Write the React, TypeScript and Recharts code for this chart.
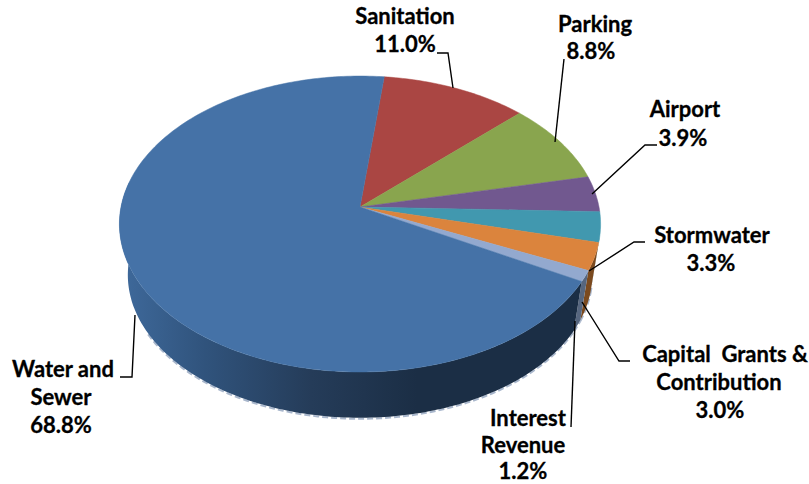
import { Pie, PieChart } from "recharts";

const WIDTH = 809;
const HEIGHT = 484;

const categories = ["Sanitation", "Parking", "Airport", "Stormwater", "Capital Grants & Contribution", "Interest Revenue", "Water and Sewer"];
const shares = [11.0, 8.8, 3.9, 3.3, 3.0, 1.2, 68.8];
const topColors = ["#aa4643", "#89a54e", "#71588f", "#4198af", "#db843d", "#93a9cf", "#4572a7"];
const wallColors = ["#6b2b29", "#55672f", "#463759", "#285f6d", "#7b4a1f", "#56667f", "url(#waterWall)"];

// tilted-disc projection, fitted to the picture
const CX = 360;
const CY = 207;
const RADIUS = 239;
const TILT_Y = 146;
const PERSPECTIVE = 0.115;
const TOP_MID_Y = 224;
const BOTTOM_MID_Y = 275;
const BOTTOM_CX = 360;
const BOTTOM_SCALE = 0.965;

function project(angle: number) {
  const rad = (angle * Math.PI) / 180;
  const u = Math.cos(rad);
  const v = -Math.sin(rad);
  const d = 1 - PERSPECTIVE * v;
  return { x: CX + (RADIUS * u) / d, y: CY + (TILT_Y * v) / d };
}

function projectBottom(angle: number) {
  const p = project(angle);
  return {
    x: BOTTOM_CX + (p.x - CX) * BOTTOM_SCALE,
    y: BOTTOM_MID_Y + (p.y - TOP_MID_Y) * BOTTOM_SCALE,
  };
}

function rim(from: number, to: number, fn: (a: number) => { x: number; y: number }) {
  const steps = Math.max(2, Math.ceil(Math.abs(to - from)));
  const pts: string[] = [];
  for (let i = 0; i <= steps; i++) {
    const p = fn(from + ((to - from) * i) / steps);
    pts.push(`${p.x.toFixed(2)} ${p.y.toFixed(2)}`);
  }
  return pts;
}

function TopSlice(props: any) {
  const arc = rim(props.startAngle, props.endAngle, project);
  return <path d={`M${CX} ${CY}L${arc.join("L")}Z`} fill={props.fill} stroke={props.fill} strokeWidth={0.5} />;
}

// only the front of the disc shows its side; these angles are the two ends of that part
const WALL_START = -10;
const WALL_END = -190;
const RIM_END = -150;

function WallSlice(props: any) {
  const norm = (a: number) => (a > 90 ? a - 360 : a);
  const a0 = Math.min(norm(props.startAngle), WALL_START);
  const a1 = Math.max(props.endAngle, WALL_END);
  if (a0 <= a1) return null;
  const top = rim(a0, a1, project);
  const bottom = rim(a1, a0, projectBottom);
  const edge = rim(Math.max(a1, RIM_END), a0, (a) => {
    const p = projectBottom(a);
    return { x: p.x, y: p.y + 1 };
  });
  return (
    <g>
      <path d={`M${edge.join("L")}`} fill="none" stroke="#a9b7cc" strokeWidth={2} strokeDasharray="6 3" />
      <path d={`M${top.join("L")}L${bottom.join("L")}Z`} fill={props.fill} />
    </g>
  );
}

const wallData = categories.map((name, i) => ({ name, value: shares[i], fill: wallColors[i] }));
const topData = categories.map((name, i) => ({ name, value: shares[i], fill: topColors[i] }));

// callouts
const labelLines = [
  "Sanitation",
  "11.0%",
  "Parking",
  "8.8%",
  "Airport",
  "3.9%",
  "Stormwater",
  "3.3%",
  "Capital  Grants &",
  "Contribution",
  "3.0%",
  "Interest",
  "Revenue",
  "1.2%",
  "Water and",
  "Sewer",
  "68.8%",
];
const labelX = [405, 405, 595, 591, 685, 683, 712, 711, 725, 719, 720, 528, 523, 523, 63, 61, 61];
const labelY = [24, 52, 32, 59, 117, 146, 243, 271, 362, 390, 418, 426, 453, 479, 377, 405, 433];

const leaderLines = [
  "437,53 448,53 453,88",
  "564,59 555,142",
  "657,145 645,145 592,194",
  "645,242 634,242 589,271",
  "630,361 619,361 582,302",
  "571,427 575,321",
  "120,377 132,377 135,315",
];

export default function App() {
  return (
    <div style={{ position: "absolute", left: 0, top: 0, width: WIDTH, height: HEIGHT, background: "#fff" }}>
      <PieChart width={WIDTH} height={HEIGHT} margin={{ top: 0, right: 0, bottom: 0, left: 0 }}>
        <defs>
          <linearGradient id="waterWall" gradientUnits="userSpaceOnUse" x1={119} y1={0} x2={600} y2={0}>
            <stop offset="0" stopColor="#3f6a9c" />
            <stop offset="0.18" stopColor="#30537c" />
            <stop offset="0.4" stopColor="#253c59" />
            <stop offset="0.62" stopColor="#1b2e45" />
            <stop offset="1" stopColor="#1b2e45" />
          </linearGradient>
        </defs>
        <Pie
          data={wallData}
          dataKey="value"
          cx={CX}
          cy={CY}
          outerRadius={RADIUS}
          startAngle={83.5}
          endAngle={-276.5}
          stroke="none"
          shape={WallSlice}
          isAnimationActive={false}
        />
        <Pie
          data={topData}
          dataKey="value"
          cx={CX}
          cy={CY}
          outerRadius={RADIUS}
          startAngle={83.5}
          endAngle={-276.5}
          stroke="none"
          shape={TopSlice}
          isAnimationActive={false}
        />
      </PieChart>
      <svg width={WIDTH} height={HEIGHT} style={{ position: "absolute", left: 0, top: 0 }}>
        {leaderLines.map((pts) => (
          <polyline key={pts} points={pts} fill="none" stroke="#000" strokeWidth={1.4} />
        ))}
        {labelLines.map((t, i) => (
          <text
            key={i}
            x={labelX[i]}
            y={labelY[i]}
            textAnchor="middle"
            fontFamily="Lato, 'Open Sans', sans-serif"
            fontWeight={700}
            fontSize={22}
            fill="#000"
            stroke="#000"
            strokeWidth={0.3}
            style={{ whiteSpace: "pre" }}
          >
            {t}
          </text>
        ))}
      </svg>
    </div>
  );
}
